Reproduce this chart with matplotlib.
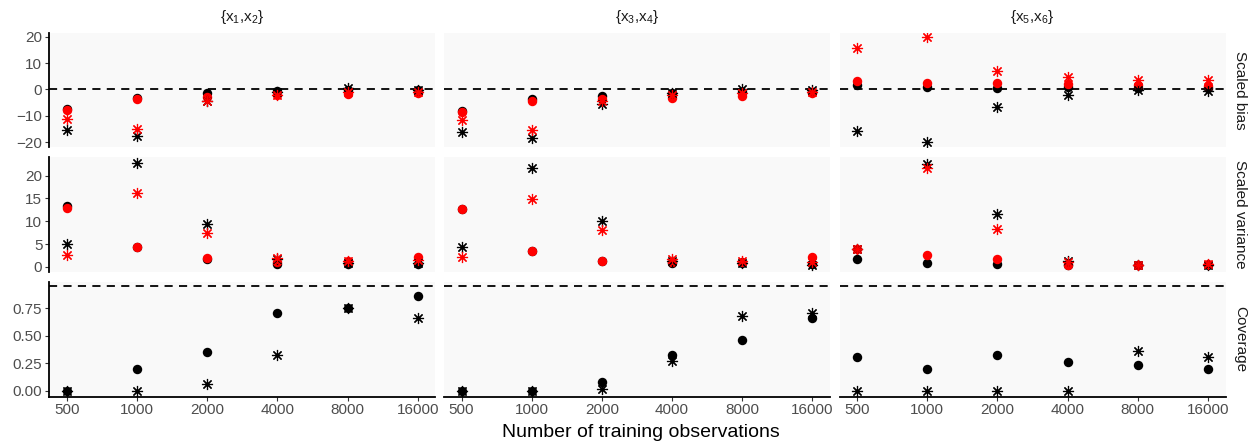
import matplotlib
matplotlib.use("Agg")
import matplotlib.pyplot as plt
import numpy as np

plt.rcParams['font.family'] = ['Liberation Sans', 'DejaVu Sans']
plt.rcParams['mathtext.fontset'] = 'custom'
plt.rcParams['mathtext.rm'] = 'Liberation Sans'
plt.rcParams['mathtext.it'] = 'Liberation Sans'
plt.rcParams['mathtext.bf'] = 'Liberation Sans'

# ---- data ----
n_obs = ["500", "1000", "2000", "4000", "8000", "16000"]
col_labels = [r"{x$_1$,x$_2$}", r"{x$_3$,x$_4$}", r"{x$_5$,x$_6$}"]
row_labels = ["Scaled bias", "Scaled variance", "Coverage"]

bias_black_dot = [[-7.3, -3.2, -1.3, -0.5, -0.3, -0.3],
                  [-8.3, -3.8, -2.4, -1.3, -1.0, -0.8],
                  [1.6, 1.0, 0.4, 0.8, 0.4, 0.4]]
bias_red_dot = [[-7.9, -3.8, -2.8, -2.2, -1.8, -1.2],
                [-8.6, -4.3, -3.8, -3.1, -2.6, -1.5],
                [3.2, 2.5, 2.5, 1.9, 1.6, 1.2]]
bias_black_star = [[-15.2, -17.8, -4.2, -1.0, 0.4, -0.1],
                   [-16.0, -18.5, -5.4, -1.5, 0.0, -0.3],
                   [-15.6, -20.1, -6.7, -2.2, -0.3, -0.4]]
bias_red_star = [[-11.1, -14.8, -4.4, -2.0, -1.0, -0.8],
                 [-11.4, -15.2, -4.5, -2.0, -1.5, -1.0],
                 [15.7, 19.8, 7.1, 4.6, 3.6, 3.6]]

var_black_dot = [[13.3, 4.4, 1.8, 0.6, 0.7, 0.5],
                 [12.6, 3.4, 1.3, 0.8, 0.8, 0.5],
                 [1.7, 0.9, 0.5, 0.3, 0.3, 0.3]]
var_red_dot = [[12.8, 4.4, 2.0, 1.1, 1.2, 2.2],
               [12.7, 3.5, 1.3, 1.1, 1.1, 2.2],
               [3.8, 2.6, 1.6, 0.4, 0.4, 0.7]]
var_black_star = [[4.9, 22.9, 9.5, 1.7, 0.9, 0.9],
                  [4.4, 21.8, 10.0, 1.3, 0.8, 0.4],
                  [3.8, 22.6, 11.6, 1.3, 0.3, 0.4]]
var_red_star = [[2.6, 16.1, 7.5, 1.9, 1.3, 1.5],
                [2.2, 14.8, 8.1, 1.7, 1.2, 1.0],
                [3.8, 21.8, 8.4, 1.0, 0.3, 0.6]]

cov_dot = [[0.0, 0.20, 0.35, 0.71, 0.75, 0.86],
           [0.0, 0.0, 0.08, 0.33, 0.46, 0.66],
           [0.31, 0.20, 0.33, 0.26, 0.24, 0.20]]
cov_star = [[0.0, 0.0, 0.067, 0.33, 0.75, 0.667],
            [0.0, 0.0, 0.015, 0.27, 0.68, 0.71],
            [0.0, 0.0, 0.0, 0.0, 0.36, 0.31]]

ref_lines = [0.0, None, 0.95]
y_ticks = [[-20, -10, 0, 10, 20], [0, 5, 10, 15, 20], [0.0, 0.25, 0.5, 0.75]]
y_ticklabels = [["\u221220", "\u221210", "0", "10", "20"],
                ["0", "5", "10", "15", "20"],
                ["0.00", "0.25", "0.50", "0.75"]]
y_lims = [(-22.0, 21.4), (-1.15, 24.0), (-0.05, 0.99)]

# ---- layout ----
W, H = 1257, 444
fig = plt.figure(figsize=(W / 100, H / 100), dpi=100)
col_x = [49.3, 444.0, 839.5]
col_w = 386.0
row_y = [33.0, 157.5, 282.0]
row_h = 114.5

asterisk = (8, 2, 0)
dot_ms = 6.8
star_ms = 8.0
red = "#FF0000"

x = np.arange(len(n_obs))

for r in range(3):
    for c in range(3):
        ax = fig.add_axes([col_x[c] / W, 1 - (row_y[r] + row_h) / H, col_w / W, row_h / H])
        ax.set_facecolor("#F9F9F9")
        for s in ax.spines.values():
            s.set_visible(False)
        if r < 2:
            sets = [
                ([bias_black_dot, var_black_dot][r], "o", "black", dot_ms),
                ([bias_red_dot, var_red_dot][r], "o", red, dot_ms),
                ([bias_black_star, var_black_star][r], asterisk, "black", star_ms),
                ([bias_red_star, var_red_star][r], asterisk, red, star_ms),
            ]
        else:
            sets = [
                (cov_dot, "o", "black", dot_ms),
                (cov_star, asterisk, "black", star_ms),
            ]
        if ref_lines[r] is not None:
            ax.axhline(ref_lines[r], color="black", lw=1.3, ls=(0, (4.5, 3.5)), zorder=1)
        for data, mk, colr, ms in sets:
            if mk == "o":
                ax.plot(x, data[c], ls="none", marker="o", ms=ms, mfc=colr, mec=colr, mew=0, zorder=3)
            else:
                ax.plot(x, data[c], ls="none", marker=mk, ms=ms, mec=colr, mew=0.85, zorder=3)
        ax.set_xlim(-0.25, 5.25)
        ax.set_ylim(*y_lims[r])
        ax.set_yticks(y_ticks[r])
        ax.set_xticks(x)
        ax.tick_params(axis="both", length=3, width=0.8, color="#333333",
                       labelcolor="#4D4D4D", labelsize=11, pad=2)
        if c == 0:
            ax.spines["left"].set_visible(True)
            ax.spines["left"].set_linewidth(1.3)
            ax.spines["left"].set_color("black")
            ax.set_yticklabels(y_ticklabels[r])
        else:
            ax.tick_params(axis="y", left=False, labelleft=False)
        if r == 2:
            ax.spines["bottom"].set_visible(True)
            ax.spines["bottom"].set_linewidth(1.3)
            ax.spines["bottom"].set_color("black")
            ax.set_xticklabels(n_obs)
        else:
            ax.tick_params(axis="x", bottom=False, labelbottom=False)
        if r == 0:
            fig.text((col_x[c] + col_w / 2) / W, 1 - 17 / H, col_labels[c],
                     ha="center", va="center", fontsize=11, color="#1A1A1A")
        if c == 2:
            fig.text(1240 / W, 1 - (row_y[r] + row_h / 2) / H, row_labels[r],
                     ha="center", va="center", rotation=-90, fontsize=11, color="#1A1A1A")

fig.text(641 / W, 1 - 432 / H, "Number of training observations",
         ha="center", va="center", fontsize=14, color="black")

fig.savefig("out.png", dpi=100)
